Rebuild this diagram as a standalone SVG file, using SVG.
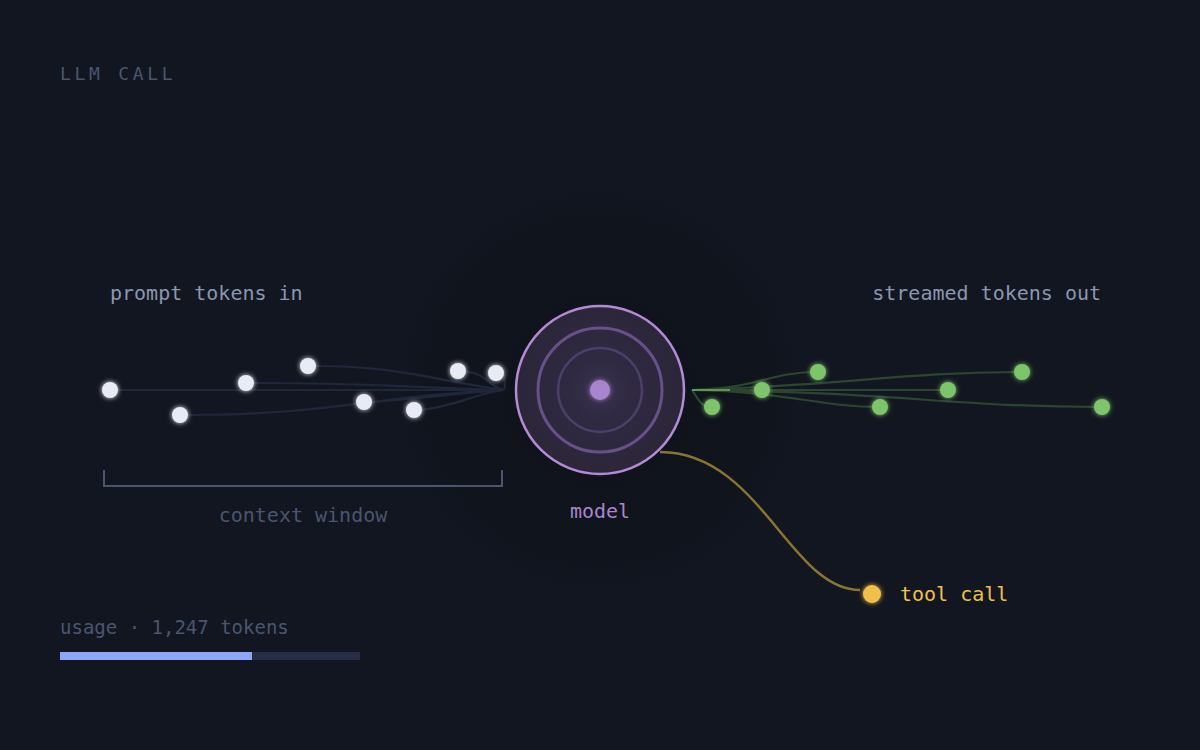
<svg xmlns="http://www.w3.org/2000/svg" width="1200" height="750" viewBox="0 0 1200 750">
<defs>
<radialGradient id="halo" cx="600" cy="390" r="215" gradientUnits="userSpaceOnUse">
<stop offset="0" stop-color="#0c0f16" stop-opacity="0.55"/>
<stop offset="0.75" stop-color="#0d1017" stop-opacity="0.4"/>
<stop offset="1" stop-color="#121620" stop-opacity="0"/>
</radialGradient>
<radialGradient id="core" cx="600" cy="390" r="84" gradientUnits="userSpaceOnUse">
<stop offset="0" stop-color="#3a3350"/>
<stop offset="0.35" stop-color="#2f2a42"/>
<stop offset="1" stop-color="#2b2639"/>
</radialGradient>
<filter id="glow" x="-100%" y="-100%" width="300%" height="300%">
<feGaussianBlur in="SourceGraphic" stdDeviation="2.5" result="b"/>
<feMerge><feMergeNode in="b"/><feMergeNode in="SourceGraphic"/></feMerge>
</filter>
</defs>
<style>
text{font-family:"DejaVu Sans Mono","Liberation Mono",monospace;font-size:20px}
.in{fill:#e8eaf4}
.out{fill:#7ec46a}
.cin{fill:none;stroke:#20273b;stroke-width:2.2}
.cout{fill:none;stroke:#2c4530;stroke-width:2.2}
.dim{fill:#4a5570}
.lbl{fill:#8a96b0}
</style>
<rect width="1200" height="750" fill="#121620"/>
<circle cx="600" cy="390" r="215" fill="url(#halo)"/>

<g id="connectors">
<path class="cin" d="M118,390 L504,390"/>
<path class="cin" d="M188,415 C330,415 380,395 504,390"/>
<path class="cin" d="M254,383 C380,383 420,388 504,390"/>
<path class="cin" d="M316,366 C400,366 430,380 504,390"/>
<path class="cin" d="M372,402 C430,398 470,392 504,390"/>
<path class="cin" d="M422,410 C460,405 480,392 504,390"/>
<path class="cin" d="M466,372 C485,372 490,388 504,390"/>
<path class="cin" d="M504,375 C505,382 505,388 504,390"/>
<path class="cout" d="M692,390 C698,398 700,407 712,407"/>
<path class="cout" d="M692,390 L762,390"/>
<path class="cout" d="M692,390 C760,388 770,372 818,372"/>
<path class="cout" d="M692,390 C790,392 820,407 880,407"/>
<path class="cout" d="M692,390 L948,390"/>
<path class="cout" d="M692,390 C850,385 900,372 1022,372"/>
<path class="cout" d="M692,390 C900,392 950,407 1102,407"/>
<path d="M692,390 L730,390" fill="none" stroke="#5e9a4e" stroke-width="2.2"/>
<path d="M660,452 C760,452 790,590 860,590" fill="none" stroke="#8a7433" stroke-width="2.5"/>
<path d="M104,470 V486 H502 V470" fill="none" stroke="#4a5570" stroke-width="2"/>
</g>

<g id="title"><text x="60" y="80" class="dim" style="font-size:18px;letter-spacing:3.7px">LLM CALL</text></g>

<g id="prompt-tokens">
<text x="110" y="300" class="lbl">prompt tokens in</text>
<g filter="url(#glow)">
<circle class="in" cx="110" cy="390" r="8"/>
<circle class="in" cx="180" cy="415" r="8"/>
<circle class="in" cx="246" cy="383" r="8"/>
<circle class="in" cx="308" cy="366" r="8"/>
<circle class="in" cx="364" cy="402" r="8"/>
<circle class="in" cx="414" cy="410" r="8"/>
<circle class="in" cx="458" cy="371" r="8"/>
<circle class="in" cx="496" cy="373" r="8"/>
</g>
</g>

<g id="context-window"><text x="303" y="522" class="dim" text-anchor="middle">context window</text></g>

<g id="model">
<circle cx="600" cy="390" r="84" fill="url(#core)" stroke="#b48ad8" stroke-width="2.5"/>
<circle cx="600" cy="390" r="62" fill="none" stroke="#68508a" stroke-width="3"/>
<circle cx="600" cy="390" r="42" fill="none" stroke="#4e3f68" stroke-width="2.5"/>
<circle cx="600" cy="390" r="10" fill="#a885cc" filter="url(#glow)"/>
<text x="600" y="518" text-anchor="middle" fill="#a885cc">model</text>
</g>

<g id="streamed-tokens">
<text x="1101" y="300" class="lbl" text-anchor="end">streamed tokens out</text>
<g filter="url(#glow)">
<circle class="out" cx="712" cy="407" r="8"/>
<circle class="out" cx="762" cy="390" r="8"/>
<circle class="out" cx="818" cy="372" r="8"/>
<circle class="out" cx="880" cy="407" r="8"/>
<circle class="out" cx="948" cy="390" r="8"/>
<circle class="out" cx="1022" cy="372" r="8"/>
<circle class="out" cx="1102" cy="407" r="8"/>
</g>
</g>

<g id="tool-call">
<circle cx="872" cy="594" r="9" fill="#f0c048" filter="url(#glow)"/>
<text x="900" y="601" fill="#f0c048">tool call</text>
</g>

<g id="usage">
<text x="60" y="634" class="dim" style="font-size:19px">usage · 1,247 tokens</text>
<rect x="60" y="652" width="300" height="8" fill="#262e44"/>
<rect x="60" y="652" width="192" height="8" fill="#8ea4f8"/>
</g>
</svg>
